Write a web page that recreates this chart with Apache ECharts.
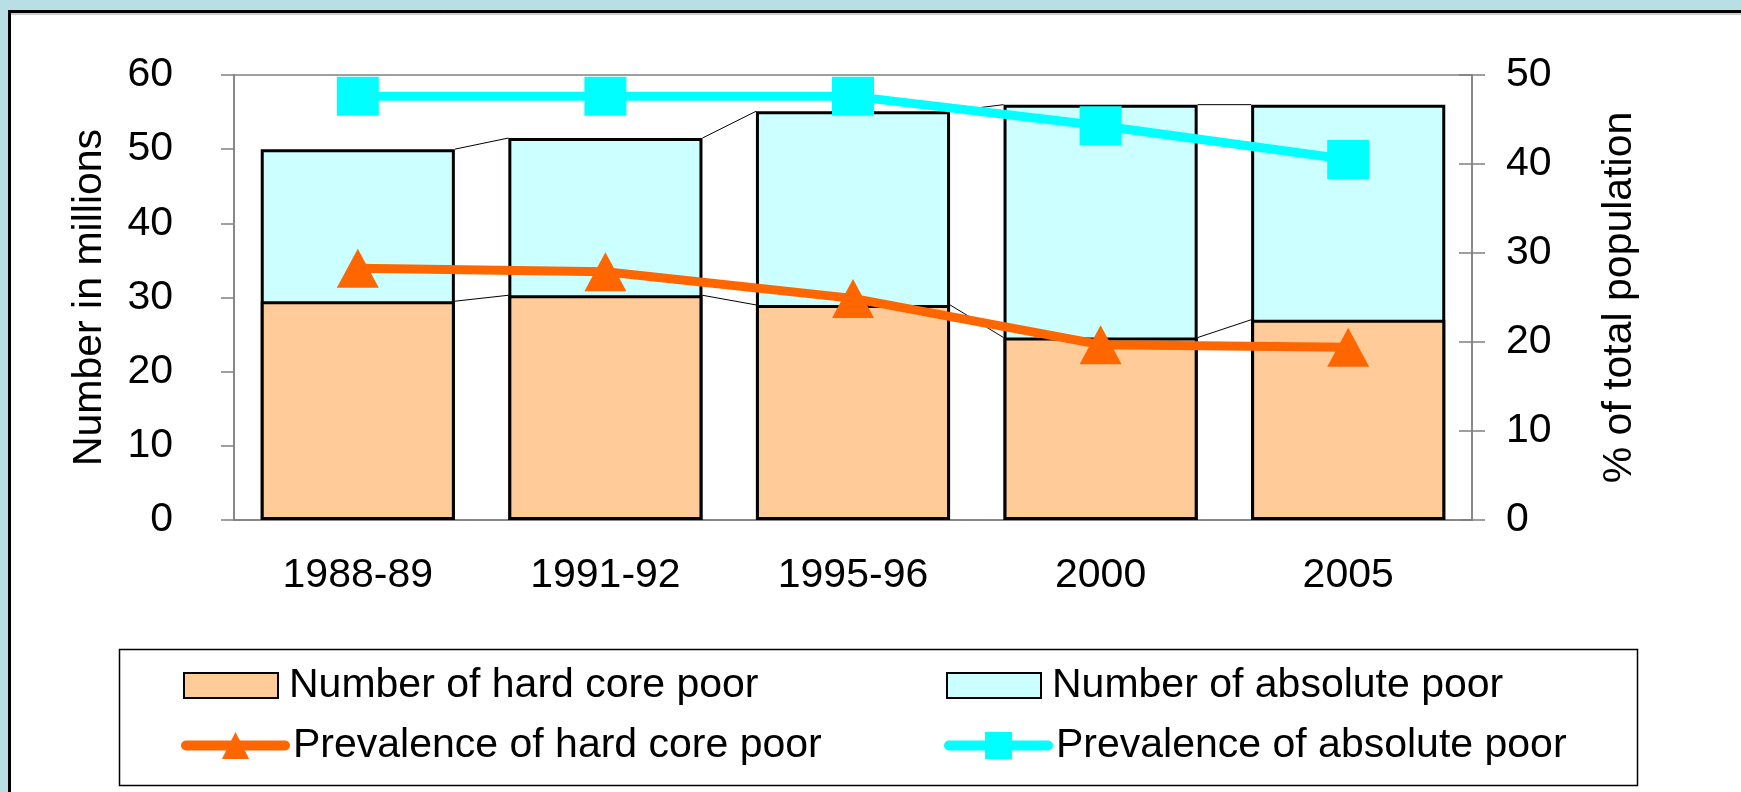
<!DOCTYPE html>
<html style="height: 100%">
<head>
<meta charset="utf-8">
</head>
<body style="height: 100%; margin: 0; background: #B8E0E4">
<div id="container" style="width: 1741px; height: 792px"></div>
<script type="text/javascript" src="https://cdn.jsdelivr.net/npm/echarts@6/dist/echarts.min.js"></script>
<script type="text/javascript">
var categories = ['1988-89', '1991-92', '1995-96', '2000', '2005'];
// millions (left axis)
var hardCoreNum = [29.5, 30.3, 29.0, 24.6, 27.0];
var absoluteNum = [50.0, 51.5, 55.1, 56.0, 56.0];
// % of total population (right axis)
var hardCorePct = [28.3, 27.9, 24.9, 19.7, 19.4];
var absolutePct = [47.6, 47.6, 47.6, 44.3, 40.5];
var leftTicks = [0, 60, 10];
var rightTicks = [0, 50, 10];

var orangeFill = '#FFCC99';
var cyanFill = '#CCFFFF';
var orangeLine = '#FF6600';
var cyanLine = '#00FFFF';
var axisGray = '#808080';
var font = 'Liberation Sans, Arial, sans-serif';
var barFrac = 0.784;

var dom = document.getElementById('container');
var myChart = echarts.init(dom);

// excel style series lines between the bar tops
var joinData = [];
for (var i = 0; i < categories.length - 1; i++) {
    joinData.push([i, hardCoreNum[i], absoluteNum[i], hardCoreNum[i + 1], absoluteNum[i + 1]]);
}

function renderJoin(params, api) {
    var i = api.value(0);
    var half = api.size([1, 0])[0] * barFrac / 2;
    var kids = [];
    [[1, 3], [2, 4]].forEach(function (p) {
        var a = api.coord([i, api.value(p[0])]);
        var b = api.coord([i + 1, api.value(p[1])]);
        kids.push({
            type: 'line',
            shape: {x1: a[0] + half, y1: a[1], x2: b[0] - half, y2: b[1]},
            style: {stroke: '#000', lineWidth: 1}
        });
    });
    return {type: 'group', children: kids};
}

function barLegend(name, left, top) {
    return {
        data: [name], left: left, top: top, padding: 0,
        icon: 'rect', itemWidth: 94, itemHeight: 25, selectedMode: false,
        textStyle: {color: '#000', fontSize: 41, fontFamily: font, padding: [0, 0, 0, 6]}
    };
}
function lineLegend(name, left, top) {
    return {
        data: [name], left: left, top: top, padding: 0,
        itemWidth: 99, itemHeight: 34, selectedMode: false,
        lineStyle: {width: 10, cap: 'round'},
        textStyle: {color: '#000', fontSize: 41, fontFamily: font, padding: [0, 0, 0, 3]}
    };
}

var labelStyle = {color: '#000', fontSize: 41, fontFamily: font};

var option = {
    backgroundColor: '#B8E0E4',
    animation: false,
    graphic: [
        {type: 'rect', z: -10, shape: {x: 9.5, y: 11.5, width: 1800, height: 900},
            style: {fill: '#fff', stroke: '#000', lineWidth: 3}},
        {type: 'line', z: -9, shape: {x1: 11, y1: 14, x2: 1741, y2: 14},
            style: {stroke: '#999', lineWidth: 1}},
        {type: 'rect', z: -9, shape: {x: 119.5, y: 649.5, width: 1518, height: 136},
            style: {fill: '#fff', stroke: '#000', lineWidth: 1.5}}
    ],
    grid: {
        left: 234, right: 269, top: 75, height: 445,
        show: true, borderColor: axisGray, borderWidth: 1.5
    },
    legend: [
        barLegend('Number of hard core poor', 183, 665),
        barLegend('Number of absolute poor', 946, 665),
        lineLegend('Prevalence of hard core poor', 181, 725),
        lineLegend('Prevalence of absolute poor', 944, 725)
    ],
    xAxis: {
        type: 'category',
        data: categories,
        axisLine: {lineStyle: {color: axisGray, width: 1.5}},
        axisTick: {length: 13, lineStyle: {color: axisGray, width: 1.5}},
        axisLabel: Object.assign({margin: 35}, labelStyle)
    },
    yAxis: [
        {
            type: 'value', position: 'left',
            min: leftTicks[0], max: leftTicks[1], interval: leftTicks[2],
            name: 'Number in millions', nameLocation: 'middle', nameGap: 124, nameRotate: 90,
            nameTextStyle: labelStyle,
            axisLine: {show: true, lineStyle: {color: axisGray, width: 1.5}},
            axisTick: {show: true, length: 13, lineStyle: {color: axisGray, width: 1.5}},
            axisLabel: Object.assign({margin: 61}, labelStyle),
            splitLine: {show: false}
        },
        {
            type: 'value', position: 'right',
            min: rightTicks[0], max: rightTicks[1], interval: rightTicks[2],
            name: '% of total population', nameLocation: 'middle', nameGap: 127, nameRotate: 90,
            nameTextStyle: labelStyle,
            axisLine: {show: true, lineStyle: {color: axisGray, width: 1.5}},
            axisTick: {show: true, length: 13, lineStyle: {color: axisGray, width: 1.5}},
            axisLabel: Object.assign({margin: 34}, labelStyle),
            splitLine: {show: false}
        },
        {
            type: 'value', position: 'right',
            min: rightTicks[0], max: rightTicks[1], interval: rightTicks[2],
            axisLine: {show: false},
            axisTick: {show: true, inside: true, length: 13, lineStyle: {color: axisGray, width: 1.5}},
            axisLabel: {show: false},
            splitLine: {show: false}
        }
    ],
    series: [
        {
            name: 'Number of absolute poor', type: 'bar', yAxisIndex: 0,
            data: absoluteNum, barWidth: (barFrac * 100) + '%', barGap: '-100%',
            itemStyle: {color: cyanFill, borderColor: '#000', borderWidth: 3}
        },
        {
            name: 'Number of hard core poor', type: 'bar', yAxisIndex: 0,
            data: hardCoreNum, barWidth: (barFrac * 100) + '%', barGap: '-100%',
            itemStyle: {color: orangeFill, borderColor: '#000', borderWidth: 3}
        },
        {
            name: 'joins', type: 'custom', yAxisIndex: 0, z: 1,
            data: joinData, renderItem: renderJoin, silent: true,
            encode: {x: 0, y: 1}
        },
        {
            name: 'Prevalence of hard core poor', type: 'line', yAxisIndex: 1,
            data: hardCorePct, symbol: 'triangle', symbolSize: [42, 39],
            lineStyle: {color: orangeLine, width: 9, cap: 'round'},
            itemStyle: {color: orangeLine}, z: 5
        },
        {
            name: 'Prevalence of absolute poor', type: 'line', yAxisIndex: 1,
            data: absolutePct, symbol: 'rect', symbolSize: [42, 39],
            lineStyle: {color: cyanLine, width: 9, cap: 'round'},
            itemStyle: {color: cyanLine}, z: 5
        }
    ]
};

if (option && typeof option === 'object') {
    myChart.setOption(option, true);
}
</script>
</body>
</html>
